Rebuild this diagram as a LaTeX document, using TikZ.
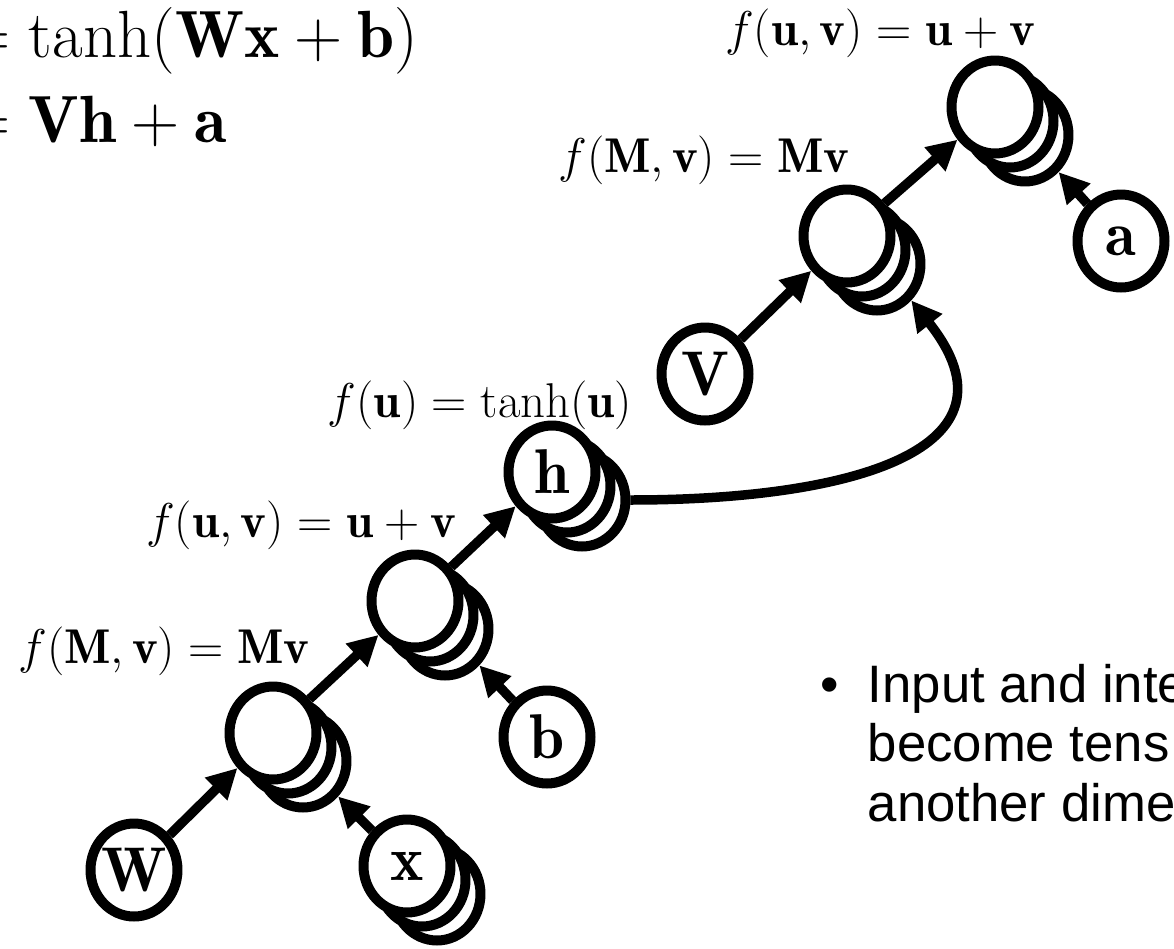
\RequirePackage{fix-cm}
\documentclass[tikz,border=0pt]{standalone}
\usepackage{amsmath,amssymb}
\usepackage{fontspec}
\newfontfamily\slidefont{Liberation Sans}
\usepackage{tikz}
\usetikzlibrary{shapes.geometric,arrows.meta,positioning}
\newcommand{\vlab}[1]{\makebox[0pt]{$\mathbf{#1}$}}

\begin{document}
\begin{tikzpicture}[
        x=0.02cm, y=-0.02cm,
        % Heavy outlines so the graph still reads on a projector.
        var/.style={ellipse, draw, line width=0.2cm, fill=white,
            minimum width=1.74cm, minimum height=1.86cm, inner sep=0pt,
            font=\fontsize{36}{40}\selectfont},
        behind/.style={var, xshift=#1*0.3cm, yshift=-#1*0.28cm},
        fn/.style={inner sep=0pt, font=\fontsize{27.8}{33}\selectfont},
        eqn/.style={inner sep=0pt, font=\fontsize{38}{44}\selectfont},
        flow/.style={-{Triangle[length=0.6cm, width=0.6cm]}, line width=0.19cm}
    ]
        \useasboundingbox (0,0) rectangle (1174,948);
        \clip (0,0) rectangle (1174,948);

        \node[eqn, anchor=base west] (eqh) at (-38,57) {$= \tanh(\mathbf{W}\mathbf{x}+\mathbf{b})$};
        \node[eqn, anchor=base west] (eqy) at (-38,142) {$= \mathbf{V}\mathbf{h}+\mathbf{a}$};

        % Stacked nodes (a minibatch)
        \node[behind=2] (x2) at (407,866) {};
        \node[behind=1] (x1) at (407,866) {};
        \node[var] (x) at (407,866) {\vlab{x}};
        \node[var] (W) at (134,870) {\vlab{W}};

        \node[behind=2] (mulA2) at (273,733) {};
        \node[behind=1] (mulA1) at (273,733) {};
        \node[var] (mulA) at (273,733) {};
        \node[var] (b) at (547,737) {\vlab{b}};

        \node[behind=2] (addA2) at (415,601) {};
        \node[behind=1] (addA1) at (415,601) {};
        \node[var] (addA) at (415,601) {};

        \node[behind=2] (h2) at (552,472) {};
        \node[behind=1] (h1) at (552,472) {};
        \node[var] (h) at (552,472) {\vlab{h}};

        \node[var] (V) at (705,374) {\vlab{V}};
        \node[behind=2] (mulB2) at (847,236) {};
        \node[behind=1] (mulB1) at (847,236) {};
        \node[var] (mulB) at (847,236) {};

        \node[behind=2] (addB2) at (995,107) {};
        \node[behind=1] (addB1) at (995,107) {};
        \node[var] (addB) at (995,107) {};
        \node[var] (a) at (1121,241) {\vlab{a}};

        % Functions
        \node[fn] (fAddB) at (880,33) {$f(\mathbf{u},\mathbf{v}) = \mathbf{u}+\mathbf{v}$};
        \node[fn] (fMulB) at (704,160) {$f(\mathbf{M},\mathbf{v}) = \mathbf{M}\mathbf{v}$};
        \node[fn] (fTanh) at (480,405) {$f(\mathbf{u}) = \tanh(\mathbf{u})$};
        \node[fn] (fAddA) at (301,525) {$f(\mathbf{u},\mathbf{v}) = \mathbf{u}+\mathbf{v}$};
        \node[fn] (fMulA) at (164,651) {$f(\mathbf{M},\mathbf{v}) = \mathbf{M}\mathbf{v}$};

        % Connections
        \draw[flow] (W) -- (mulA);
        \draw[flow] (x) -- (mulA2);
        \draw[flow] (mulA) -- (addA);
        \draw[flow] (b) -- (addA2);
        \draw[flow] (addA) -- (h);
        \draw[flow] (h2.east) .. controls (850,500) and (1030,450) .. (mulB2.south east);
        \draw[flow] (V) -- (mulB);
        \draw[flow] (mulB) -- (addB);
        \draw[flow] (a) -- (addB2);

        \node[anchor=base west, inner sep=0pt, font=\slidefont\fontsize{30}{34}\selectfont] (note) at (820,702)
            {\begin{tabular}[t]{@{}l@{\hspace{0.58cm}}l@{}}
                \textbullet & Input and inte\\
                & become tens\\
                & another dime
            \end{tabular}};
    \end{tikzpicture}
\end{document}
